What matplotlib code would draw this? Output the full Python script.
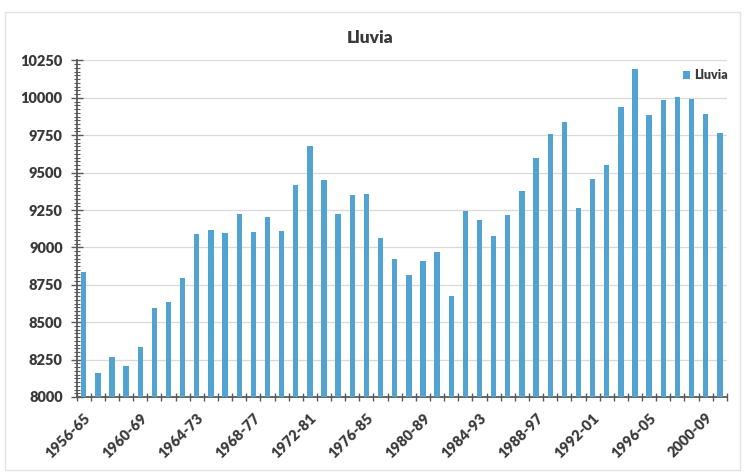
import matplotlib.pyplot as plt
import numpy as np
from matplotlib.patches import Rectangle
from matplotlib.ticker import MultipleLocator

C_BAR = "#52A3D2"
C_TEXT = "#3A3A3A"
C_AXIS = "#595959"
C_GRID = "#D9D9D9"

periods = [
    "1956-65", "1957-66", "1958-67", "1959-68", "1960-69", "1961-70", "1962-71",
    "1963-72", "1964-73", "1965-74", "1966-75", "1967-76", "1968-77", "1969-78",
    "1970-79", "1971-80", "1972-81", "1973-82", "1974-83", "1975-84", "1976-85",
    "1977-86", "1978-87", "1979-88", "1980-89", "1981-90", "1982-91", "1983-92",
    "1984-93", "1985-94", "1986-95", "1987-96", "1988-97", "1989-98", "1990-99",
    "1991-00", "1992-01", "1993-02", "1994-03", "1995-04", "1996-05", "1997-06",
    "1998-07", "1999-08", "2000-09", "2001-10",
]
lluvia = [
    8835, 8158, 8269, 8207, 8336, 8597, 8633, 8798, 9088, 9116,
    9096, 9223, 9101, 9201, 9112, 9415, 9680, 9450, 9221, 9348,
    9355, 9063, 8922, 8813, 8909, 8971, 8677, 9245, 9185, 9078,
    9218, 9380, 9595, 9758, 9840, 9262, 9460, 9548, 9938, 10195,
    9882, 9985, 10005, 9994, 9893, 9765,
]
label_every = 4

plt.rcParams["font.family"] = ["Lato", "DejaVu Sans"]

fig = plt.figure(figsize=(7.44, 4.76), dpi=100)
fig.patches.append(Rectangle((5 / 744, 1 - 470 / 476), 735 / 744, 458 / 476,
                             transform=fig.transFigure, fill=False,
                             edgecolor="#E3E3E3", lw=1.0))
ax = fig.add_axes([0.103, 0.166, 0.874, 0.707])

x = np.arange(len(lluvia))
ax.bar(x, np.array(lluvia) - 8000, bottom=8000, width=0.38, color=C_BAR,
       label="Lluvia", zorder=3)

ax.set_xlim(-0.5, len(lluvia) - 0.5)
ax.set_ylim(8000, 10250)
ax.yaxis.set_major_locator(MultipleLocator(250))
ax.yaxis.set_minor_locator(MultipleLocator(25))
ax.grid(axis="y", which="major", color=C_GRID, lw=0.9, zorder=0)

ax.set_xticks(x[::label_every])
ax.set_xticklabels(periods[::label_every], rotation=45, ha="right",
                   rotation_mode="anchor", fontsize=10.5, fontweight="heavy",
                   color=C_TEXT)
ax.set_xticks(np.arange(len(lluvia) + 1) - 0.5, minor=True)
ax.tick_params(axis="x", which="major", length=0, pad=10)
ax.tick_params(axis="x", which="minor", length=6, direction="inout",
               color=C_AXIS, width=1.0)
ax.tick_params(axis="y", which="major", length=8, direction="inout",
               color=C_AXIS, width=1.0, labelsize=10.5, labelcolor=C_TEXT,
               pad=6)
ax.tick_params(axis="y", which="minor", length=5, direction="inout",
               color=C_AXIS, width=0.8)
for lbl in ax.get_yticklabels():
    lbl.set_fontweight("heavy")

for side in ["top", "right"]:
    ax.spines[side].set_visible(False)
for side in ["left", "bottom"]:
    ax.spines[side].set_color(C_AXIS)
    ax.spines[side].set_linewidth(1.3)

fig.text(0.497, 0.92, "Lluvia", ha="center", va="center", fontsize=12.5,
         fontweight="heavy", color=C_TEXT)

leg = ax.legend(loc="upper right", bbox_to_anchor=(1.015, 1.0), frameon=False,
                fontsize=9, handlelength=0.6, handleheight=0.6,
                handletextpad=0.3, borderaxespad=0.3)
for t in leg.get_texts():
    t.set_fontweight("heavy")
    t.set_color(C_TEXT)

fig.savefig("out.png", dpi=100)
